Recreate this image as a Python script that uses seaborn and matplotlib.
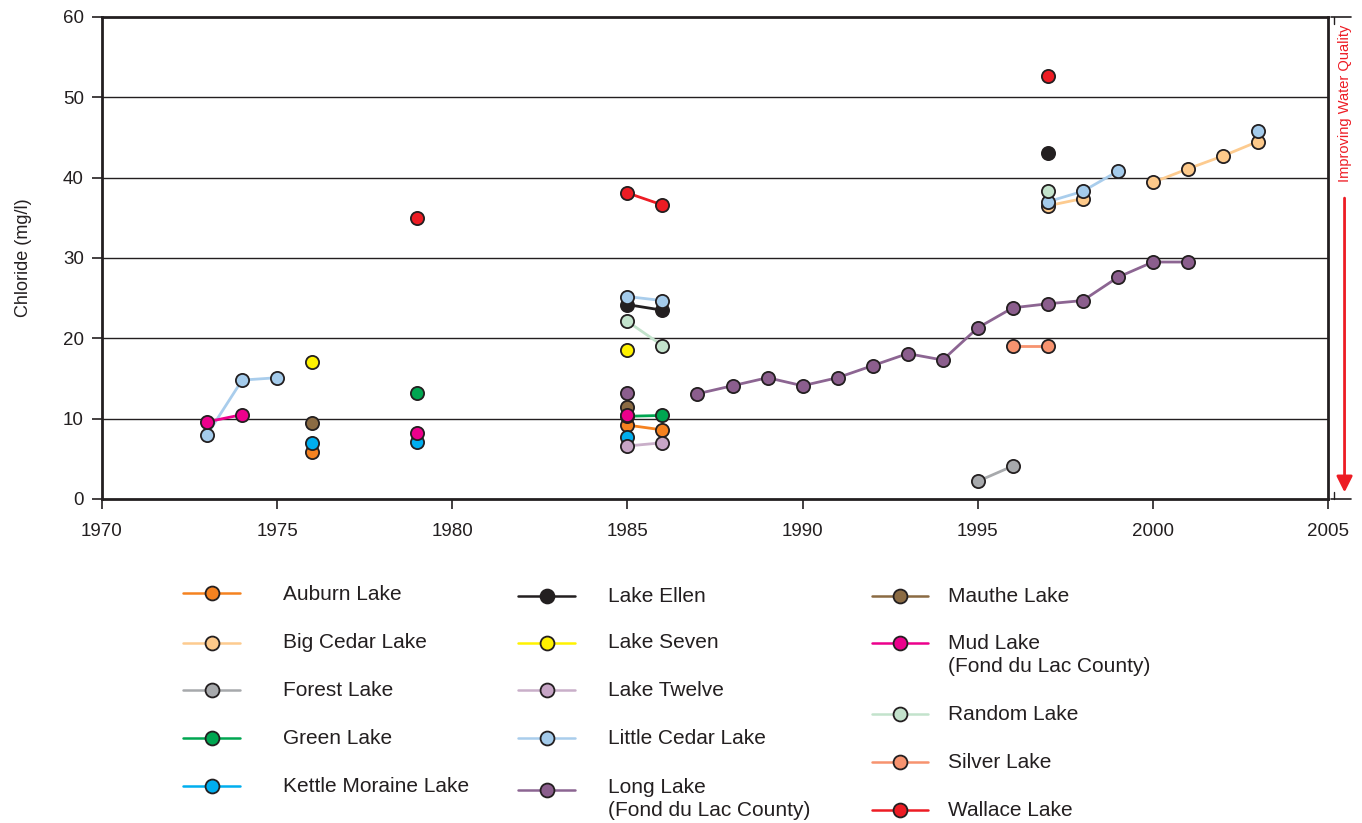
import numpy as np
import pandas as pd
import matplotlib.pyplot as plt
import seaborn as sns
from matplotlib.lines import Line2D

# ---- data (chloride, mg/l) ----
auburn_yr = [1976, 1985, 1986]
auburn_cl = [5.8, 9.2, 8.6]
bigcedar_yr = [1997, 1998, 2000, 2001, 2002, 2003]
bigcedar_cl = [36.5, 37.4, 39.4, 41.1, 42.7, 44.5]
forest_yr = [1995, 1996]
forest_cl = [2.2, 4.1]
green_yr = [1979, 1985, 1986]
green_cl = [13.2, 10.3, 10.4]
kettle_yr = [1976, 1979, 1985]
kettle_cl = [7.0, 7.1, 7.7]
ellen_yr = [1985, 1986, 1997]
ellen_cl = [24.2, 23.5, 43.1]
seven_yr = [1976, 1985]
seven_cl = [17.1, 18.5]
twelve_yr = [1985, 1986]
twelve_cl = [6.6, 7.0]
littlecedar_yr = [1973, 1974, 1975, 1985, 1986, 1997, 1998, 1999, 2003]
littlecedar_cl = [8.0, 14.8, 15.1, 25.2, 24.7, 37.0, 38.3, 40.8, 45.8]
long_yr = [1985, 1987, 1988, 1989, 1990, 1991, 1992, 1993, 1994, 1995, 1996,
           1997, 1998, 1999, 2000, 2001]
long_cl = [13.2, 13.1, 14.1, 15.1, 14.1, 15.1, 16.6, 18.1, 17.3, 21.3, 23.8,
           24.3, 24.7, 27.6, 29.5, 29.5]
mauthe_yr = [1976, 1985]
mauthe_cl = [9.5, 11.5]
mud_yr = [1973, 1974, 1979, 1985]
mud_cl = [9.6, 10.5, 8.2, 10.5]
random_yr = [1985, 1986, 1997]
random_cl = [22.1, 19.1, 38.4]
silver_yr = [1996, 1997]
silver_cl = [19.1, 19.1]
wallace_yr = [1979, 1985, 1986, 1997]
wallace_cl = [35.0, 38.1, 36.6, 52.7]

lakes = ['Auburn Lake', 'Big Cedar Lake', 'Forest Lake', 'Green Lake',
         'Kettle Moraine Lake', 'Lake Ellen', 'Lake Seven', 'Lake Twelve',
         'Little Cedar Lake', 'Long Lake\n(Fond du Lac County)', 'Mauthe Lake',
         'Mud Lake\n(Fond du Lac County)', 'Random Lake', 'Silver Lake',
         'Wallace Lake']
series = [(auburn_yr, auburn_cl), (bigcedar_yr, bigcedar_cl), (forest_yr, forest_cl),
          (green_yr, green_cl), (kettle_yr, kettle_cl), (ellen_yr, ellen_cl),
          (seven_yr, seven_cl), (twelve_yr, twelve_cl),
          (littlecedar_yr, littlecedar_cl), (long_yr, long_cl),
          (mauthe_yr, mauthe_cl), (mud_yr, mud_cl), (random_yr, random_cl),
          (silver_yr, silver_cl), (wallace_yr, wallace_cl)]
marker_colors = ['#F58220', '#FDC98A', '#A7A9AC', '#00A651', '#00AEEF',
                 '#231F20', '#FFF200', '#C7A5C6', '#A4CBEB', '#8B5E8D',
                 '#8B6B43', '#EC008C', '#C3E3CC', '#F7936F', '#ED1C24']
line_colors = ['#F58220', '#FDCB8F', '#A7A9AC', '#00A651', '#00AEEF',
               '#231F20', '#FFF200', '#C9AFC9', '#A9CDEC', '#8C6592',
               '#8B6B43', '#EC008C', '#C3E3CC', '#F7936F', '#ED1C24']

# long table, a new segment wherever a year is skipped
rows = []
for name, (yrs, vals) in zip(lakes, series):
    seg = 0
    for i, (yv, cv) in enumerate(zip(yrs, vals)):
        if i > 0 and yv - yrs[i - 1] != 1:
            seg += 1
        rows.append({'lake': name, 'year': yv, 'chloride': cv, 'seg': seg})
d = pd.DataFrame(rows)

sns.set_style('white')
plt.rcParams['font.family'] = ['Liberation Sans', 'DejaVu Sans']
ink = '#231F20'

fig = plt.figure(figsize=(13.62, 8.23), dpi=100)
ax = fig.add_axes([102 / 1362, 1 - 499 / 823, 1226 / 1362, 482 / 823])

for i, name in enumerate(lakes):
    sub = d[d['lake'] == name]
    sns.lineplot(data=sub, x='year', y='chloride', units='seg', estimator=None,
                 color=line_colors[i], linewidth=2, marker='o', markersize=9.5,
                 markerfacecolor=marker_colors[i], markeredgecolor=ink,
                 markeredgewidth=1.3, ax=ax, legend=False, zorder=3 + i * 0.01)

ax.set_xlim(1970, 2005)
ax.set_ylim(0, 60)
ax.set_xticks(range(1970, 2006, 5))
ax.set_yticks(range(0, 61, 10))
for yv in range(10, 60, 10):
    ax.axhline(yv, color=ink, lw=1, zorder=1)
for s in ax.spines.values():
    s.set_color(ink)
    s.set_linewidth(2)
ax.tick_params(axis='both', direction='out', length=7, width=1.2, color=ink,
               labelsize=13.5, labelcolor=ink, left=True, bottom=True)
ax.tick_params(axis='x', pad=10)
ax.tick_params(axis='y', pad=6)
ax.set_xlabel('')
ax.set_ylabel('Chloride (mg/l)', fontsize=13, color=ink, labelpad=22)

# "Improving Water Quality" marker on the right
tr = ax.transAxes
for yf in (1.0, 0.0):
    ax.add_line(Line2D([1.0025, 1.019], [yf, yf], transform=tr, color=ink,
                       lw=1.2, clip_on=False))
ax.add_line(Line2D([1.0045, 1.0045], [1.0, 0.985], transform=tr, color=ink,
                   lw=1, clip_on=False))
ax.add_line(Line2D([1.0045, 1.0045], [0.0, 0.015], transform=tr, color=ink,
                   lw=1, clip_on=False))
ax.text(1.0135, 0.82, 'Improving Water Quality', transform=tr, rotation=90,
        ha='center', va='center', color='#ED1C24', fontsize=10.5)
ax.annotate('', xy=(1.0135, 0.008), xytext=(1.0135, 0.63), xycoords=tr,
            textcoords=tr,
            arrowprops=dict(arrowstyle='-|>', color='#ED1C24', lw=2,
                            mutation_scale=24))

# legend drawn in figure pixels, three columns
col_x = [(183, 240, 283), (518, 575, 608), (872, 928, 948)]
row_y = [[593, 643, 690, 738, 786],
         [596, 643, 690, 738, 790],
         [596, 643, 714, 762, 810]]
text_y = [[594, 643, 690, 738, 786],
          [596, 643, 691, 739, 799],
          [596, 655, 714, 762, 810]]
W, H = 1362, 823
for i, name in enumerate(lakes):
    c, r = divmod(i, 5)
    x0, x1, xt = col_x[c]
    y = 1 - row_y[c][r] / H
    fig.add_artist(Line2D([x0 / W, x1 / W], [y, y], transform=fig.transFigure,
                          color=line_colors[i], lw=1.8))
    fig.add_artist(Line2D([(x0 + x1) / 2 / W], [y], transform=fig.transFigure,
                          marker='o', markersize=10, markerfacecolor=marker_colors[i],
                          markeredgecolor=ink, markeredgewidth=1.3, lw=0))
    fig.text(xt / W, 1 - text_y[c][r] / H, name, ha='left', va='center',
             fontsize=15, color=ink, linespacing=1.3)

fig.savefig('out.png', dpi=100)
